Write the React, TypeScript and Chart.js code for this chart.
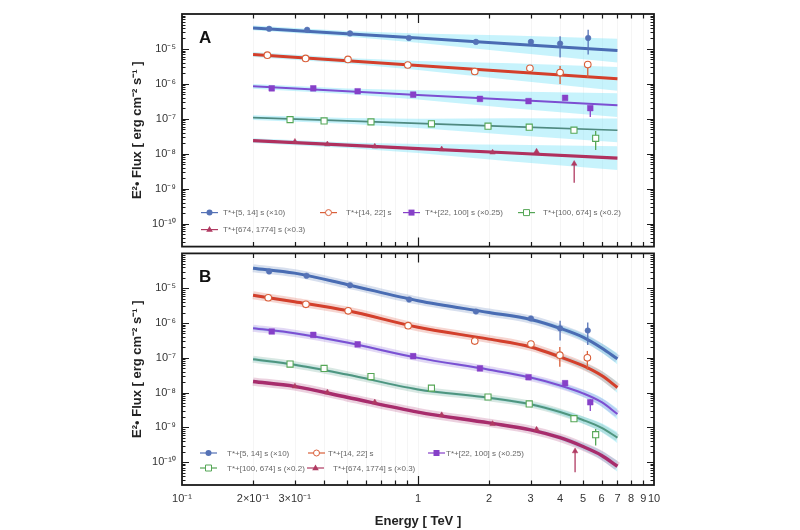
import React, { useEffect, useRef } from 'react';
import { Chart, registerables } from 'chart.js';

Chart.register(...registerables);

const FONT = "'Liberation Sans', Arial, Helvetica, sans-serif";

// ---------------- axes ----------------
const E_MIN = 0.1;
const E_MAX = 10;
const FLUX_MIN = 2.2e-11;
const FLUX_MAX = 1e-4;
const X_TICK_VALUES = [0.1, 0.2, 0.3, 0.4, 0.5, 0.6, 0.7, 0.8, 0.9, 1, 2, 3, 4, 5, 6, 7, 8, 9, 10];
const X_TICK_LABELS = ['10⁻¹', '2×10⁻¹', '3×10⁻¹', '', '', '', '', '', '', '1', '2', '3', '4', '5', '6', '7', '8', '9', '10'];
const Y_TICK_VALUES = [1e-10, 1e-9, 1e-8, 1e-7, 1e-6, 1e-5];
const Y_TICK_LABELS = ['10⁻¹⁰', '10⁻⁹', '10⁻⁸', '10⁻⁷', '10⁻⁶', '10⁻⁵'];
const X_TITLE = 'Energy [ TeV ]';
const Y_TITLE = 'E²• Flux [ erg cm⁻² s⁻¹ ]';
const SERIES_NAMES = [
  'T*+[5, 14] s (×10)',
  'T*+[14, 22] s',
  'T*+[22, 100] s (×0.25)',
  'T*+[100, 674] s (×0.2)',
  'T*+[674, 1774] s (×0.3)',
];

// ---------------- panel A (power-law fits) ----------------
const A_LINE_E = [0.2, 0.5, 1, 2.5, 7];
const A_BAND_HALF_DEX = [0.07, 0.08, 0.13, 0.24, 0.34];
const A_LINE_BLUE = [4.0e-5, 2.72e-5, 2.04e-5, 1.39e-5, 9.0e-6];
const A_LINE_RED = [6.95e-6, 4.6e-6, 3.37e-6, 2.23e-6, 1.4e-6];
const A_LINE_PURPLE = [8.5e-7, 6.17e-7, 4.84e-7, 3.51e-7, 2.45e-7];
const A_LINE_GREEN = [1.08e-7, 8.71e-8, 7.41e-8, 5.98e-8, 4.7e-8];
const A_LINE_CRIMSON = [2.37e-8, 1.76e-8, 1.41e-8, 1.05e-8, 7.5e-9];

const A_BLUE_E = [0.234, 0.339, 0.515, 0.915, 1.76, 3.01, 4.0, 5.26];
const A_BLUE_F = [3.77e-5, 3.53e-5, 2.78e-5, 2.06e-5, 1.59e-5, 1.59e-5, 1.42e-5, 2.06e-5];
const A_BLUE_LO = [null, null, null, null, null, null, 5.7e-6, 6.95e-6];
const A_BLUE_HI = [null, null, null, null, null, null, 2.29e-5, 3.53e-5];

const A_RED_E = [0.23, 0.334, 0.505, 0.905, 1.74, 2.98, 4.0, 5.24];
const A_RED_F = [6.64e-6, 5.36e-6, 5.02e-6, 3.47e-6, 2.26e-6, 2.79e-6, 2.11e-6, 3.56e-6];
const A_RED_LO = [null, null, null, null, null, null, 9.9e-7, 1.53e-6];
const A_RED_HI = [null, null, null, null, null, null, 3.24e-6, 4.5e-6];

const A_PURPLE_E = [0.24, 0.36, 0.555, 0.954, 1.83, 2.94, 4.2, 5.37];
const A_PURPLE_F = [7.46e-7, 7.46e-7, 6.14e-7, 4.92e-7, 3.72e-7, 3.21e-7, 3.97e-7, 2.03e-7];
const A_PURPLE_LO = [null, null, null, null, null, null, null, 1.13e-7];
const A_PURPLE_HI = [null, null, null, null, null, null, null, 2.3e-7];

const A_GREEN_E = [0.287, 0.4, 0.632, 1.14, 1.98, 2.96, 4.58, 5.66];
const A_GREEN_F = [9.48e-8, 8.72e-8, 8.17e-8, 7.18e-8, 6.14e-8, 5.75e-8, 4.73e-8, 2.76e-8];
const A_GREEN_LO = [null, null, null, null, null, null, null, 1.29e-8];
const A_GREEN_HI = [null, null, null, null, null, null, null, 4.5e-8];

const A_CRIMSON_E = [0.301, 0.413, 0.656, 1.26, 2.07, 3.18, 4.59];
const A_CRIMSON_F = [2.22e-8, 1.87e-8, 1.61e-8, 1.35e-8, 1.09e-8, 1.16e-8, 5.19e-9];
const A_CRIMSON_LO = [null, null, null, null, null, null, 1.48e-9];
const A_CRIMSON_HI = [null, null, null, null, null, null, 5.19e-9];

// ---------------- panel B (absorbed fits) ----------------
const B_CURVE_E = [0.2, 0.3, 0.5, 1, 2, 3, 4, 5, 6, 7];
const B_BAND_HALF_DEX = [0.05, 0.04, 0.035, 0.035, 0.04, 0.05, 0.07, 0.1, 0.13, 0.16];
const B_CURVE_BLUE = [3.76e-5, 2.71e-5, 1.28e-5, 4.37e-6, 2.0e-6, 1.26e-6, 7.03e-7, 3.91e-7, 1.91e-7, 9.31e-8];
const B_CURVE_RED = [6.25e-6, 4.09e-6, 2.28e-6, 7.5e-7, 3.43e-7, 2.04e-7, 1.06e-7, 5.9e-8, 3.07e-8, 1.4e-8];
const B_CURVE_PURPLE = [7.03e-7, 5.07e-7, 2.73e-7, 9.93e-8, 4.54e-8, 2.7e-8, 1.6e-8, 9.49e-9, 5.27e-9, 2.41e-9];
const B_CURVE_GREEN = [9.02e-8, 6.3e-8, 3.28e-8, 1.23e-8, 7.08e-9, 4.63e-9, 2.75e-9, 1.63e-9, 9.68e-10, 5.04e-10];
const B_CURVE_CRIMSON = [2.07e-8, 1.5e-8, 7.31e-9, 2.75e-9, 1.34e-9, 8.49e-10, 5.04e-10, 2.81e-10, 1.56e-10, 7.6e-11];

const B_BLUE_E = [0.234, 0.337, 0.515, 0.917, 1.76, 3.01, 4.0, 5.24];
const B_BLUE_F = [3.03e-5, 2.28e-5, 1.22e-5, 4.75e-6, 2.13e-6, 1.35e-6, 7.03e-7, 6.05e-7];
const B_BLUE_LO = [null, null, null, null, null, null, 3.15e-7, 2.32e-7];
const B_BLUE_HI = [null, null, null, null, null, null, 1.16e-6, 1.04e-6];

const B_RED_E = [0.232, 0.335, 0.506, 0.908, 1.74, 3.01, 3.99, 5.22];
const B_RED_F = [5.31e-6, 3.43e-6, 2.23e-6, 8.39e-7, 3.01e-7, 2.48e-7, 1.19e-7, 9.93e-8];
const B_RED_LO = [null, null, null, null, null, null, 5.52e-8, 4.54e-8];
const B_RED_HI = [null, null, null, null, null, null, 2.04e-7, 1.57e-7];

const B_PURPLE_E = [0.24, 0.36, 0.555, 0.954, 1.83, 2.94, 4.2, 5.37];
const B_PURPLE_F = [5.68e-7, 4.54e-7, 2.43e-7, 1.11e-7, 4.94e-8, 2.75e-8, 1.86e-8, 5.27e-9];
const B_PURPLE_LO = [null, null, null, null, null, null, null, 2.93e-9];
const B_PURPLE_HI = [null, null, null, null, null, null, null, 6.41e-9];

const B_GREEN_E = [0.287, 0.4, 0.632, 1.14, 1.98, 2.96, 4.58, 5.66];
const B_GREEN_F = [6.59e-8, 4.94e-8, 2.88e-8, 1.34e-8, 7.46e-9, 4.72e-9, 1.77e-9, 6.14e-10];
const B_GREEN_LO = [null, null, null, null, null, null, null, 2.99e-10];
const B_GREEN_HI = [null, null, null, null, null, null, null, 8.89e-10];

const B_CRIMSON_E = [0.301, 0.413, 0.656, 1.26, 2.07, 3.18, 4.63];
const B_CRIMSON_F = [1.5e-8, 1.01e-8, 5.27e-9, 2.26e-9, 1.26e-9, 8.67e-10, 2.06e-10];
const B_CRIMSON_LO = [null, null, null, null, null, null, 5.14e-11];
const B_CRIMSON_HI = [null, null, null, null, null, null, 2.06e-10];

// ---------------- styles ----------------
const STYLES_A = [
  { line: '#4a6cb3', marker: '#5572b6', point: 'circle', filled: true, r: 2.8, lw: 3 },
  { line: '#d43f2b', marker: '#d95f3a', point: 'circle', filled: false, r: 3.3, lw: 3 },
  { line: '#7c4fd2', marker: '#8640c8', point: 'rect', filled: true, r: 4, lw: 2 },
  { line: '#4f8a80', marker: '#55a656', point: 'rect', filled: false, r: 4.3, lw: 1.6 },
  { line: '#b0305e', marker: '#b03a62', point: 'triangle', filled: true, r: 3.2, lw: 3.2 },
];
const STYLES_B = [
  { line: '#4a6cb3', marker: '#5572b6', point: 'circle', filled: true, r: 2.8, lw: 3 },
  { line: '#d43f2b', marker: '#d95f3a', point: 'circle', filled: false, r: 3.3, lw: 3 },
  { line: '#7c4fd2', marker: '#8640c8', point: 'rect', filled: true, r: 4, lw: 2 },
  { line: '#4f957f', marker: '#55a656', point: 'rect', filled: false, r: 4.3, lw: 2 },
  { line: '#a82c6c', marker: '#b03a62', point: 'triangle', filled: true, r: 3.2, lw: 3.4 },
];

const PANEL_A = {
  curveE: A_LINE_E,
  halfDex: A_BAND_HALF_DEX,
  curves: [A_LINE_BLUE, A_LINE_RED, A_LINE_PURPLE, A_LINE_GREEN, A_LINE_CRIMSON],
  points: [
    [A_BLUE_E, A_BLUE_F, A_BLUE_LO, A_BLUE_HI],
    [A_RED_E, A_RED_F, A_RED_LO, A_RED_HI],
    [A_PURPLE_E, A_PURPLE_F, A_PURPLE_LO, A_PURPLE_HI],
    [A_GREEN_E, A_GREEN_F, A_GREEN_LO, A_GREEN_HI],
    [A_CRIMSON_E, A_CRIMSON_F, A_CRIMSON_LO, A_CRIMSON_HI],
  ],
  styles: STYLES_A,
  smooth: false,
  halo: false,
  bandColor: 'rgba(90, 220, 245, 0.34)',
  letter: 'A',
  legend: [
    { s: 0, row: 0, lx: 19, tx: 41 },
    { s: 1, row: 0, lx: 138, tx: 164 },
    { s: 2, row: 0, lx: 221, tx: 243 },
    { s: 3, row: 0, lx: 336, tx: 361 },
    { s: 4, row: 1, lx: 19, tx: 41 },
  ],
  legendRows: [34, 17],
};

const PANEL_B = {
  curveE: B_CURVE_E,
  halfDex: B_BAND_HALF_DEX,
  curves: [B_CURVE_BLUE, B_CURVE_RED, B_CURVE_PURPLE, B_CURVE_GREEN, B_CURVE_CRIMSON],
  points: [
    [B_BLUE_E, B_BLUE_F, B_BLUE_LO, B_BLUE_HI],
    [B_RED_E, B_RED_F, B_RED_LO, B_RED_HI],
    [B_PURPLE_E, B_PURPLE_F, B_PURPLE_LO, B_PURPLE_HI],
    [B_GREEN_E, B_GREEN_F, B_GREEN_LO, B_GREEN_HI],
    [B_CRIMSON_E, B_CRIMSON_F, B_CRIMSON_LO, B_CRIMSON_HI],
  ],
  styles: STYLES_B,
  smooth: true,
  halo: true,
  bandColor: 'rgba(110, 225, 245, 0.35)',
  letter: 'B',
  legend: [
    { s: 0, row: 0, lx: 18, tx: 45 },
    { s: 1, row: 0, lx: 126, tx: 146 },
    { s: 2, row: 0, lx: 246, tx: 264 },
    { s: 3, row: 1, lx: 18, tx: 45 },
    { s: 4, row: 1, lx: 125, tx: 151 },
  ],
  legendRows: [32, 17],
};

function xy(xs: number[], ys: (number | null)[]) {
  return xs.map((x, i) => ({ x, y: ys[i] }));
}

function hexA(hex: string, a: number) {
  const n = parseInt(hex.slice(1), 16);
  return `rgba(${(n >> 16) & 255}, ${(n >> 8) & 255}, ${n & 255}, ${a})`;
}

function buildDatasets(p: any) {
  const ds: any[] = [];
  const interp = p.smooth ? { cubicInterpolationMode: 'monotone' } : {};
  p.curves.forEach((c: number[]) => {
    const upper = c.map((v, k) => v * Math.pow(10, p.halfDex[k]));
    const lower = c.map((v, k) => v / Math.pow(10, p.halfDex[k]));
    ds.push({ data: xy(p.curveE, upper), showLine: true, fill: '+1', backgroundColor: p.bandColor, borderColor: 'transparent', borderWidth: 0, pointRadius: 0, order: 30, ...interp });
    ds.push({ data: xy(p.curveE, lower), showLine: true, fill: false, borderColor: 'transparent', borderWidth: 0, pointRadius: 0, order: 30, ...interp });
  });
  if (p.halo) {
    p.curves.forEach((c: number[], i: number) => {
      ds.push({ data: xy(p.curveE, c), showLine: true, fill: false, borderColor: hexA(p.styles[i].line, 0.22), borderWidth: p.styles[i].lw + 5, pointRadius: 0, order: 20, ...interp });
    });
  }
  p.curves.forEach((c: number[], i: number) => {
    ds.push({ data: xy(p.curveE, c), showLine: true, fill: false, borderColor: p.styles[i].line, borderWidth: p.styles[i].lw, pointRadius: 0, order: 10, ...interp });
  });
  p.points.forEach((pt: any[], i: number) => {
    const st = p.styles[i];
    ds.push({
      data: xy(pt[0], pt[1]),
      showLine: false,
      pointStyle: st.point,
      pointRadius: st.r,
      pointBackgroundColor: st.filled ? st.marker : '#ffffff',
      pointBorderColor: st.marker,
      pointBorderWidth: st.filled ? 0.5 : 1.1,
      errE: pt[0],
      errLo: pt[2],
      errHi: pt[3],
      errColor: st.marker,
      order: 1,
    });
  });
  return ds;
}

function drawMarker(ctx: CanvasRenderingContext2D, st: any, x: number, y: number, r: number) {
  ctx.beginPath();
  if (st.point === 'circle') ctx.arc(x, y, r, 0, Math.PI * 2);
  else if (st.point === 'rect') ctx.rect(x - r, y - r, 2 * r, 2 * r);
  else {
    ctx.moveTo(x, y - r * 1.2);
    ctx.lineTo(x + r * 1.1, y + r * 0.75);
    ctx.lineTo(x - r * 1.1, y + r * 0.75);
    ctx.closePath();
  }
  if (st.filled) {
    ctx.fillStyle = st.marker;
    ctx.fill();
  } else {
    ctx.fillStyle = '#ffffff';
    ctx.fill();
    ctx.strokeStyle = st.marker;
    ctx.lineWidth = 1;
    ctx.stroke();
  }
}

const decorPlugin = {
  id: 'panelDecor',
  beforeDatasetsDraw(chart: any) {
    const { ctx, chartArea: a, scales } = chart;
    ctx.save();
    ctx.strokeStyle = 'rgba(0,0,0,0.04)';
    ctx.lineWidth = 1;
    X_TICK_VALUES.forEach((v) => {
      const px = Math.round(scales.x.getPixelForValue(v)) + 0.5;
      ctx.beginPath();
      ctx.moveTo(px, a.top);
      ctx.lineTo(px, a.bottom);
      ctx.stroke();
    });
    ctx.restore();
  },
  beforeDatasetDraw(chart: any, args: any) {
    const ds = chart.data.datasets[args.index];
    if (!ds.errLo) return;
    const { ctx, scales } = chart;
    ctx.save();
    ctx.strokeStyle = ds.errColor;
    ctx.lineWidth = 1.3;
    ds.errLo.forEach((lo: number | null, i: number) => {
      const hi = ds.errHi[i];
      if (lo == null || hi == null) return;
      const px = scales.x.getPixelForValue(ds.errE[i]);
      ctx.beginPath();
      ctx.moveTo(px, scales.y.getPixelForValue(hi));
      ctx.lineTo(px, scales.y.getPixelForValue(lo));
      ctx.stroke();
    });
    ctx.restore();
  },
  afterDraw(chart: any, _args: any, opts: any) {
    const { ctx, chartArea: a, scales } = chart;
    const p = opts.panel;
    ctx.save();
    // x ticks (top and bottom edges, inward)
    ctx.strokeStyle = '#1a1a1a';
    ctx.lineWidth = 1.2;
    X_TICK_VALUES.forEach((v) => {
      if (v <= E_MIN || v >= E_MAX) return;
      const px = Math.round(scales.x.getPixelForValue(v)) + 0.5;
      const len = v === 1 ? 9 : 4.5;
      ctx.beginPath();
      ctx.moveTo(px, a.top);
      ctx.lineTo(px, a.top + len);
      ctx.moveTo(px, a.bottom);
      ctx.lineTo(px, a.bottom - len);
      ctx.stroke();
    });
    // y ticks (left and right, inward, with minor)
    ctx.lineWidth = 1;
    for (let d = -11; d <= -4; d++) {
      for (let m = 1; m <= 9; m++) {
        const v = m * Math.pow(10, d);
        if (v <= FLUX_MIN || v >= FLUX_MAX) continue;
        const py = Math.round(scales.y.getPixelForValue(v)) + 0.5;
        const len = m === 1 ? 7 : 3.5;
        ctx.beginPath();
        ctx.moveTo(a.left, py);
        ctx.lineTo(a.left + len, py);
        ctx.moveTo(a.right, py);
        ctx.lineTo(a.right - len, py);
        ctx.stroke();
      }
    }
    // frame
    ctx.lineWidth = 1.8;
    ctx.strokeStyle = '#1a1a1a';
    ctx.strokeRect(a.left, a.top, a.right - a.left, a.bottom - a.top);
    // panel letter
    ctx.fillStyle = '#111';
    ctx.font = `bold 17px ${FONT}`;
    ctx.textBaseline = 'alphabetic';
    ctx.textAlign = 'left';
    ctx.fillText(p.letter, a.left + 17, a.top + 28.5);
    // legend
    ctx.font = `8px ${FONT}`;
    ctx.textBaseline = 'middle';
    p.legend.forEach((it: any) => {
      const st = p.styles[it.s];
      const y = a.bottom - p.legendRows[it.row];
      const x0 = a.left + it.lx;
      ctx.strokeStyle = st.marker;
      ctx.lineWidth = 1.2;
      ctx.beginPath();
      ctx.moveTo(x0, y);
      ctx.lineTo(x0 + 17, y);
      ctx.stroke();
      drawMarker(ctx, st, x0 + 8.5, y, 3);
      ctx.fillStyle = '#666';
      ctx.fillText(SERIES_NAMES[it.s], a.left + it.tx, y + 0.5);
    });
    ctx.restore();
  },
};

function configFor(p: any, bottom: boolean): any {
  return {
    type: 'scatter',
    data: { datasets: buildDatasets(p) },
    options: {
      responsive: false,
      animation: false,
      devicePixelRatio: 1,
      events: [],
      layout: { padding: { left: 125, right: 146, top: bottom ? 2 : 14, bottom: bottom ? 0 : 2 } },
      plugins: {
        legend: { display: false },
        tooltip: { enabled: false },
        panelDecor: { panel: p },
      },
      scales: {
        x: {
          type: 'logarithmic',
          min: E_MIN,
          max: E_MAX,
          display: bottom,
          grid: { display: false, drawTicks: false },
          border: { display: false },
          afterBuildTicks: (s: any) => {
            s.ticks = X_TICK_VALUES.map((v) => ({ value: v }));
          },
          ticks: {
            autoSkip: false,
            maxRotation: 0,
            minRotation: 0,
            padding: 7,
            color: '#333',
            font: { family: FONT, size: 11 },
            callback: (_v: any, i: number) => X_TICK_LABELS[i],
          },
          title: {
            display: true,
            text: X_TITLE,
            color: '#222',
            font: { family: FONT, size: 13, weight: 'bold' },
            padding: { top: 0, bottom: 1 },
          },
          afterFit: (s: any) => {
            s.height = bottom ? 45 : 0;
            s.paddingLeft = 0;
            s.paddingRight = 0;
          },
        },
        y: {
          type: 'logarithmic',
          min: FLUX_MIN,
          max: FLUX_MAX,
          grid: { display: false, drawTicks: false },
          border: { display: false },
          afterBuildTicks: (s: any) => {
            s.ticks = Y_TICK_VALUES.map((v) => ({ value: v }));
          },
          ticks: {
            autoSkip: false,
            padding: 6,
            color: '#333',
            font: { family: FONT, size: 11 },
            callback: (_v: any, i: number) => Y_TICK_LABELS[i],
          },
          title: {
            display: true,
            text: Y_TITLE,
            color: '#222',
            font: { family: FONT, size: 13, weight: 'bold' },
            padding: { top: 5, bottom: 0 },
          },
          afterFit: (s: any) => {
            s.width = 57;
            s.paddingTop = 0;
            s.paddingBottom = 0;
          },
        },
      },
    },
    plugins: [decorPlugin],
  };
}

export default function App() {
  const refA = useRef<HTMLCanvasElement>(null);
  const refB = useRef<HTMLCanvasElement>(null);
  useEffect(() => {
    const a = new Chart(refA.current as HTMLCanvasElement, configFor(PANEL_A, false));
    const b = new Chart(refB.current as HTMLCanvasElement, configFor(PANEL_B, true));
    return () => {
      a.destroy();
      b.destroy();
    };
  }, []);
  return (
    <div style={{ position: 'absolute', left: 0, top: 0, width: 800, height: 530, background: '#ffffff' }}>
      <canvas ref={refA} width={800} height={252} style={{ position: 'absolute', left: 0, top: 0, width: 800, height: 252 }} />
      <canvas ref={refB} width={800} height={282} style={{ position: 'absolute', left: 0, top: 248, width: 800, height: 282 }} />
    </div>
  );
}
